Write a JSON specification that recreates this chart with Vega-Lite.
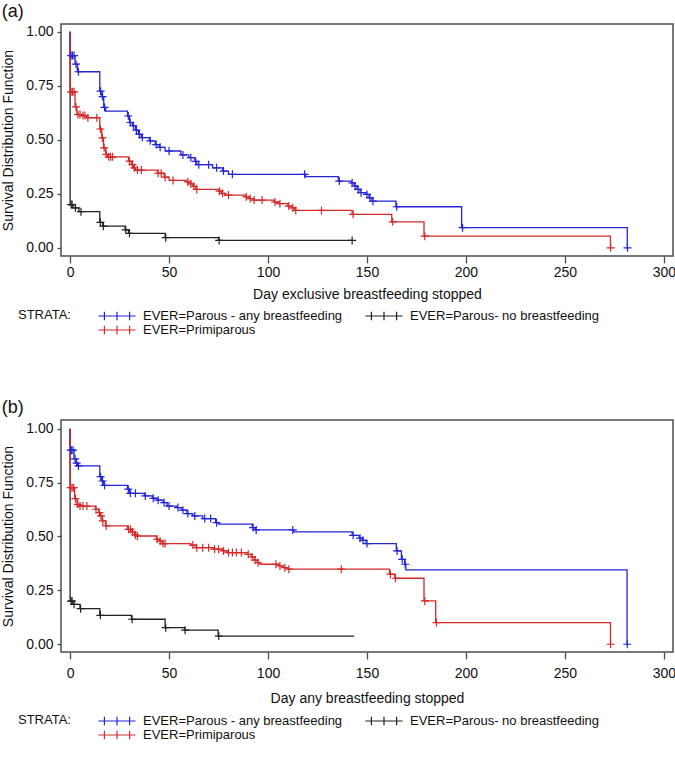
{
  "$schema": "https://vega.github.io/schema/vega-lite/v6.json",
  "padding": {"left": 1, "top": 2, "right": 1, "bottom": 0},
  "background": "white",
  "config": {
    "font": "Liberation Sans",
    "view": {"stroke": "#4d4d4d", "strokeWidth": 1.5},
    "axis": {"grid": false, "domain": false, "tickColor": "#4d4d4d", "tickWidth": 1.3, "labelColor": "#111", "titleColor": "#111", "labelFontSize": 14, "titleFontSize": 14, "titleFontWeight": "normal"},
    "axisX": {"tickSize": 7},
    "axisY": {"tickSize": 4, "labelPadding": 4, "titlePadding": 10},
    "title": {"fontSize": 18, "fontWeight": "normal", "anchor": "start", "frame": "bounds", "offset": 3, "color": "#111"}
  },
  "datasets": {
    "km": [
      {"p":"a","s":"K","d":0,"v":1,"c":0},{"p":"a","s":"K","d":0,"v":0.2,"c":0},{"p":"a","s":"K","d":0.5,"v":0.2,"c":1},{"p":"a","s":"K","d":1,"v":0.2,"c":1},{"p":"a","s":"K","d":1.5,"v":0.185,"c":0},{"p":"a","s":"K","d":2.7,"v":0.185,"c":1},{"p":"a","s":"K","d":4.5,"v":0.167,"c":0},{"p":"a","s":"K","d":5.5,"v":0.167,"c":1},{"p":"a","s":"K","d":15,"v":0.118,"c":0},{"p":"a","s":"K","d":15.3,"v":0.118,"c":1},{"p":"a","s":"K","d":16.5,"v":0.1,"c":0},{"p":"a","s":"K","d":16.8,"v":0.1,"c":1},{"p":"a","s":"K","d":27.8,"v":0.083,"c":0},{"p":"a","s":"K","d":28.1,"v":0.083,"c":1},{"p":"a","s":"K","d":29.5,"v":0.067,"c":0},{"p":"a","s":"K","d":30,"v":0.067,"c":1},{"p":"a","s":"K","d":48,"v":0.047,"c":0},{"p":"a","s":"K","d":48.3,"v":0.047,"c":1},{"p":"a","s":"K","d":75,"v":0.034,"c":0},{"p":"a","s":"K","d":75.3,"v":0.034,"c":1},{"p":"a","s":"K","d":142.5,"v":0.034,"c":1},
      {"p":"a","s":"B","d":0,"v":1,"c":0},{"p":"a","s":"B","d":0,"v":0.89,"c":0},{"p":"a","s":"B","d":0.5,"v":0.89,"c":1},{"p":"a","s":"B","d":1.2,"v":0.89,"c":1},{"p":"a","s":"B","d":2,"v":0.89,"c":1},{"p":"a","s":"B","d":2.5,"v":0.85,"c":0},{"p":"a","s":"B","d":3,"v":0.85,"c":1},{"p":"a","s":"B","d":3.7,"v":0.815,"c":0},{"p":"a","s":"B","d":4.2,"v":0.815,"c":1},{"p":"a","s":"B","d":15,"v":0.725,"c":0},{"p":"a","s":"B","d":15.4,"v":0.725,"c":1},{"p":"a","s":"B","d":16,"v":0.7,"c":0},{"p":"a","s":"B","d":16.4,"v":0.7,"c":1},{"p":"a","s":"B","d":17,"v":0.65,"c":0},{"p":"a","s":"B","d":17.4,"v":0.65,"c":1},{"p":"a","s":"B","d":18,"v":0.633,"c":0},{"p":"a","s":"B","d":29,"v":0.61,"c":0},{"p":"a","s":"B","d":29.4,"v":0.61,"c":1},{"p":"a","s":"B","d":30,"v":0.58,"c":0},{"p":"a","s":"B","d":30.4,"v":0.58,"c":1},{"p":"a","s":"B","d":31.5,"v":0.565,"c":0},{"p":"a","s":"B","d":32,"v":0.565,"c":1},{"p":"a","s":"B","d":33,"v":0.545,"c":0},{"p":"a","s":"B","d":33.5,"v":0.545,"c":1},{"p":"a","s":"B","d":34.5,"v":0.525,"c":0},{"p":"a","s":"B","d":35,"v":0.525,"c":1},{"p":"a","s":"B","d":36,"v":0.51,"c":0},{"p":"a","s":"B","d":36.5,"v":0.51,"c":1},{"p":"a","s":"B","d":40,"v":0.495,"c":0},{"p":"a","s":"B","d":40.5,"v":0.495,"c":1},{"p":"a","s":"B","d":43,"v":0.478,"c":0},{"p":"a","s":"B","d":43.5,"v":0.478,"c":1},{"p":"a","s":"B","d":45,"v":0.465,"c":0},{"p":"a","s":"B","d":45.5,"v":0.465,"c":1},{"p":"a","s":"B","d":48,"v":0.448,"c":0},{"p":"a","s":"B","d":50,"v":0.448,"c":1},{"p":"a","s":"B","d":56,"v":0.43,"c":0},{"p":"a","s":"B","d":57,"v":0.43,"c":1},{"p":"a","s":"B","d":60,"v":0.417,"c":0},{"p":"a","s":"B","d":61,"v":0.417,"c":1},{"p":"a","s":"B","d":63,"v":0.4,"c":0},{"p":"a","s":"B","d":63.5,"v":0.4,"c":1},{"p":"a","s":"B","d":64,"v":0.385,"c":0},{"p":"a","s":"B","d":65,"v":0.385,"c":1},{"p":"a","s":"B","d":70,"v":0.385,"c":1},{"p":"a","s":"B","d":72,"v":0.37,"c":0},{"p":"a","s":"B","d":74,"v":0.37,"c":1},{"p":"a","s":"B","d":77,"v":0.355,"c":0},{"p":"a","s":"B","d":77.5,"v":0.355,"c":1},{"p":"a","s":"B","d":80,"v":0.34,"c":0},{"p":"a","s":"B","d":82,"v":0.34,"c":1},{"p":"a","s":"B","d":118.5,"v":0.34,"c":1},{"p":"a","s":"B","d":119,"v":0.329,"c":0},{"p":"a","s":"B","d":135.5,"v":0.309,"c":0},{"p":"a","s":"B","d":136,"v":0.309,"c":1},{"p":"a","s":"B","d":142,"v":0.3,"c":0},{"p":"a","s":"B","d":142.5,"v":0.3,"c":1},{"p":"a","s":"B","d":143.5,"v":0.286,"c":0},{"p":"a","s":"B","d":144,"v":0.286,"c":1},{"p":"a","s":"B","d":145,"v":0.27,"c":0},{"p":"a","s":"B","d":145.5,"v":0.27,"c":1},{"p":"a","s":"B","d":146.5,"v":0.255,"c":0},{"p":"a","s":"B","d":147,"v":0.255,"c":1},{"p":"a","s":"B","d":149.5,"v":0.247,"c":0},{"p":"a","s":"B","d":150,"v":0.247,"c":1},{"p":"a","s":"B","d":151,"v":0.231,"c":0},{"p":"a","s":"B","d":151.5,"v":0.231,"c":1},{"p":"a","s":"B","d":152.5,"v":0.216,"c":0},{"p":"a","s":"B","d":153,"v":0.216,"c":1},{"p":"a","s":"B","d":164.6,"v":0.19,"c":0},{"p":"a","s":"B","d":165,"v":0.19,"c":1},{"p":"a","s":"B","d":197.8,"v":0.093,"c":0},{"p":"a","s":"B","d":198.3,"v":0.093,"c":1},{"p":"a","s":"B","d":281.5,"v":0,"c":0},{"p":"a","s":"B","d":281.6,"v":0,"c":1},
      {"p":"a","s":"R","d":0,"v":1,"c":0},{"p":"a","s":"R","d":0,"v":0.722,"c":0},{"p":"a","s":"R","d":0.5,"v":0.722,"c":1},{"p":"a","s":"R","d":1.2,"v":0.722,"c":1},{"p":"a","s":"R","d":2,"v":0.722,"c":1},{"p":"a","s":"R","d":2.5,"v":0.652,"c":0},{"p":"a","s":"R","d":3,"v":0.652,"c":1},{"p":"a","s":"R","d":3.4,"v":0.617,"c":0},{"p":"a","s":"R","d":4,"v":0.617,"c":1},{"p":"a","s":"R","d":5,"v":0.617,"c":1},{"p":"a","s":"R","d":6,"v":0.612,"c":0},{"p":"a","s":"R","d":6.5,"v":0.612,"c":1},{"p":"a","s":"R","d":7.5,"v":0.612,"c":1},{"p":"a","s":"R","d":8.4,"v":0.602,"c":0},{"p":"a","s":"R","d":9,"v":0.602,"c":1},{"p":"a","s":"R","d":13.5,"v":0.602,"c":1},{"p":"a","s":"R","d":15,"v":0.55,"c":0},{"p":"a","s":"R","d":15.3,"v":0.55,"c":1},{"p":"a","s":"R","d":16,"v":0.509,"c":0},{"p":"a","s":"R","d":16.3,"v":0.509,"c":1},{"p":"a","s":"R","d":16.9,"v":0.463,"c":0},{"p":"a","s":"R","d":17.2,"v":0.463,"c":1},{"p":"a","s":"R","d":18,"v":0.432,"c":0},{"p":"a","s":"R","d":18.3,"v":0.432,"c":1},{"p":"a","s":"R","d":18.8,"v":0.421,"c":0},{"p":"a","s":"R","d":19.5,"v":0.421,"c":1},{"p":"a","s":"R","d":20.5,"v":0.421,"c":1},{"p":"a","s":"R","d":21.5,"v":0.421,"c":1},{"p":"a","s":"R","d":29.5,"v":0.401,"c":0},{"p":"a","s":"R","d":30,"v":0.401,"c":1},{"p":"a","s":"R","d":31,"v":0.385,"c":0},{"p":"a","s":"R","d":31.5,"v":0.385,"c":1},{"p":"a","s":"R","d":32,"v":0.37,"c":0},{"p":"a","s":"R","d":32.5,"v":0.37,"c":1},{"p":"a","s":"R","d":33,"v":0.36,"c":0},{"p":"a","s":"R","d":34,"v":0.36,"c":1},{"p":"a","s":"R","d":36,"v":0.36,"c":1},{"p":"a","s":"R","d":44,"v":0.345,"c":0},{"p":"a","s":"R","d":44.5,"v":0.345,"c":1},{"p":"a","s":"R","d":46,"v":0.345,"c":1},{"p":"a","s":"R","d":47.5,"v":0.327,"c":0},{"p":"a","s":"R","d":48,"v":0.327,"c":1},{"p":"a","s":"R","d":50,"v":0.312,"c":0},{"p":"a","s":"R","d":52,"v":0.312,"c":1},{"p":"a","s":"R","d":59,"v":0.305,"c":0},{"p":"a","s":"R","d":59.5,"v":0.305,"c":1},{"p":"a","s":"R","d":60.5,"v":0.296,"c":0},{"p":"a","s":"R","d":61,"v":0.296,"c":1},{"p":"a","s":"R","d":62,"v":0.285,"c":0},{"p":"a","s":"R","d":62.5,"v":0.285,"c":1},{"p":"a","s":"R","d":63.5,"v":0.27,"c":0},{"p":"a","s":"R","d":64,"v":0.27,"c":1},{"p":"a","s":"R","d":75,"v":0.262,"c":0},{"p":"a","s":"R","d":75.5,"v":0.262,"c":1},{"p":"a","s":"R","d":76.5,"v":0.252,"c":0},{"p":"a","s":"R","d":77,"v":0.252,"c":1},{"p":"a","s":"R","d":78,"v":0.244,"c":0},{"p":"a","s":"R","d":80,"v":0.244,"c":1},{"p":"a","s":"R","d":88.5,"v":0.236,"c":0},{"p":"a","s":"R","d":89,"v":0.236,"c":1},{"p":"a","s":"R","d":90.5,"v":0.228,"c":0},{"p":"a","s":"R","d":91,"v":0.228,"c":1},{"p":"a","s":"R","d":92.5,"v":0.221,"c":0},{"p":"a","s":"R","d":93,"v":0.221,"c":1},{"p":"a","s":"R","d":97,"v":0.221,"c":1},{"p":"a","s":"R","d":103,"v":0.212,"c":0},{"p":"a","s":"R","d":103.5,"v":0.212,"c":1},{"p":"a","s":"R","d":105.5,"v":0.204,"c":0},{"p":"a","s":"R","d":106,"v":0.204,"c":1},{"p":"a","s":"R","d":110,"v":0.193,"c":0},{"p":"a","s":"R","d":110.5,"v":0.193,"c":1},{"p":"a","s":"R","d":112,"v":0.185,"c":0},{"p":"a","s":"R","d":112.5,"v":0.185,"c":1},{"p":"a","s":"R","d":113.5,"v":0.173,"c":0},{"p":"a","s":"R","d":114,"v":0.173,"c":1},{"p":"a","s":"R","d":127,"v":0.173,"c":1},{"p":"a","s":"R","d":142.5,"v":0.155,"c":0},{"p":"a","s":"R","d":143,"v":0.155,"c":1},{"p":"a","s":"R","d":162.5,"v":0.12,"c":0},{"p":"a","s":"R","d":163,"v":0.12,"c":1},{"p":"a","s":"R","d":178.8,"v":0.054,"c":0},{"p":"a","s":"R","d":179.2,"v":0.054,"c":1},{"p":"a","s":"R","d":273,"v":0,"c":0},{"p":"a","s":"R","d":273.1,"v":0,"c":1},
      {"p":"b","s":"K","d":0,"v":1,"c":0},{"p":"b","s":"K","d":0,"v":0.2,"c":0},{"p":"b","s":"K","d":0.5,"v":0.2,"c":1},{"p":"b","s":"K","d":1,"v":0.2,"c":1},{"p":"b","s":"K","d":1.5,"v":0.185,"c":0},{"p":"b","s":"K","d":2,"v":0.185,"c":1},{"p":"b","s":"K","d":5,"v":0.165,"c":0},{"p":"b","s":"K","d":5.3,"v":0.165,"c":1},{"p":"b","s":"K","d":15,"v":0.134,"c":0},{"p":"b","s":"K","d":15.3,"v":0.134,"c":1},{"p":"b","s":"K","d":31,"v":0.116,"c":0},{"p":"b","s":"K","d":31.3,"v":0.116,"c":1},{"p":"b","s":"K","d":48,"v":0.077,"c":0},{"p":"b","s":"K","d":48.3,"v":0.077,"c":1},{"p":"b","s":"K","d":57.8,"v":0.065,"c":0},{"p":"b","s":"K","d":58.1,"v":0.065,"c":1},{"p":"b","s":"K","d":74.8,"v":0.038,"c":0},{"p":"b","s":"K","d":75.1,"v":0.038,"c":1},{"p":"b","s":"K","d":143.5,"v":0.038,"c":0},
      {"p":"b","s":"B","d":0,"v":1,"c":0},{"p":"b","s":"B","d":0,"v":0.9,"c":0},{"p":"b","s":"B","d":0.3,"v":0.9,"c":1},{"p":"b","s":"B","d":0.8,"v":0.9,"c":1},{"p":"b","s":"B","d":1.5,"v":0.9,"c":1},{"p":"b","s":"B","d":2,"v":0.86,"c":0},{"p":"b","s":"B","d":2.5,"v":0.86,"c":1},{"p":"b","s":"B","d":3,"v":0.84,"c":0},{"p":"b","s":"B","d":3.3,"v":0.84,"c":1},{"p":"b","s":"B","d":3.8,"v":0.827,"c":0},{"p":"b","s":"B","d":4.2,"v":0.827,"c":1},{"p":"b","s":"B","d":15,"v":0.777,"c":0},{"p":"b","s":"B","d":15.4,"v":0.777,"c":1},{"p":"b","s":"B","d":16,"v":0.757,"c":0},{"p":"b","s":"B","d":16.4,"v":0.757,"c":1},{"p":"b","s":"B","d":17,"v":0.737,"c":0},{"p":"b","s":"B","d":17.4,"v":0.737,"c":1},{"p":"b","s":"B","d":29,"v":0.719,"c":0},{"p":"b","s":"B","d":29.4,"v":0.719,"c":1},{"p":"b","s":"B","d":30,"v":0.7,"c":0},{"p":"b","s":"B","d":30.4,"v":0.7,"c":1},{"p":"b","s":"B","d":33,"v":0.7,"c":1},{"p":"b","s":"B","d":37.5,"v":0.688,"c":0},{"p":"b","s":"B","d":38,"v":0.688,"c":1},{"p":"b","s":"B","d":41.5,"v":0.677,"c":0},{"p":"b","s":"B","d":42,"v":0.677,"c":1},{"p":"b","s":"B","d":44,"v":0.668,"c":0},{"p":"b","s":"B","d":44.5,"v":0.668,"c":1},{"p":"b","s":"B","d":47,"v":0.657,"c":0},{"p":"b","s":"B","d":47.5,"v":0.657,"c":1},{"p":"b","s":"B","d":49,"v":0.641,"c":0},{"p":"b","s":"B","d":50,"v":0.641,"c":1},{"p":"b","s":"B","d":54,"v":0.634,"c":0},{"p":"b","s":"B","d":54.5,"v":0.634,"c":1},{"p":"b","s":"B","d":56.5,"v":0.622,"c":0},{"p":"b","s":"B","d":57,"v":0.622,"c":1},{"p":"b","s":"B","d":59,"v":0.606,"c":0},{"p":"b","s":"B","d":59.5,"v":0.606,"c":1},{"p":"b","s":"B","d":62,"v":0.595,"c":0},{"p":"b","s":"B","d":63,"v":0.595,"c":1},{"p":"b","s":"B","d":67,"v":0.583,"c":0},{"p":"b","s":"B","d":68,"v":0.583,"c":1},{"p":"b","s":"B","d":71,"v":0.583,"c":1},{"p":"b","s":"B","d":73.5,"v":0.564,"c":0},{"p":"b","s":"B","d":74,"v":0.564,"c":1},{"p":"b","s":"B","d":75,"v":0.557,"c":0},{"p":"b","s":"B","d":92,"v":0.541,"c":0},{"p":"b","s":"B","d":92.5,"v":0.541,"c":1},{"p":"b","s":"B","d":93.5,"v":0.53,"c":0},{"p":"b","s":"B","d":94,"v":0.53,"c":1},{"p":"b","s":"B","d":112.5,"v":0.53,"c":1},{"p":"b","s":"B","d":113,"v":0.521,"c":0},{"p":"b","s":"B","d":142.5,"v":0.505,"c":0},{"p":"b","s":"B","d":143,"v":0.505,"c":1},{"p":"b","s":"B","d":146,"v":0.492,"c":0},{"p":"b","s":"B","d":146.5,"v":0.492,"c":1},{"p":"b","s":"B","d":147.5,"v":0.482,"c":0},{"p":"b","s":"B","d":148,"v":0.482,"c":1},{"p":"b","s":"B","d":149.5,"v":0.467,"c":0},{"p":"b","s":"B","d":150,"v":0.467,"c":1},{"p":"b","s":"B","d":164.8,"v":0.433,"c":0},{"p":"b","s":"B","d":165.2,"v":0.433,"c":1},{"p":"b","s":"B","d":167.4,"v":0.394,"c":0},{"p":"b","s":"B","d":167.8,"v":0.394,"c":1},{"p":"b","s":"B","d":169,"v":0.371,"c":0},{"p":"b","s":"B","d":169.3,"v":0.371,"c":1},{"p":"b","s":"B","d":169.6,"v":0.345,"c":0},{"p":"b","s":"B","d":281.4,"v":0,"c":0},{"p":"b","s":"B","d":281.5,"v":0,"c":1},
      {"p":"b","s":"R","d":0,"v":1,"c":0},{"p":"b","s":"R","d":0,"v":0.726,"c":0},{"p":"b","s":"R","d":0.3,"v":0.726,"c":1},{"p":"b","s":"R","d":1,"v":0.726,"c":1},{"p":"b","s":"R","d":1.8,"v":0.726,"c":1},{"p":"b","s":"R","d":2.3,"v":0.675,"c":0},{"p":"b","s":"R","d":2.7,"v":0.675,"c":1},{"p":"b","s":"R","d":3.5,"v":0.649,"c":0},{"p":"b","s":"R","d":3.9,"v":0.649,"c":1},{"p":"b","s":"R","d":4.5,"v":0.641,"c":0},{"p":"b","s":"R","d":5,"v":0.641,"c":1},{"p":"b","s":"R","d":6.5,"v":0.641,"c":1},{"p":"b","s":"R","d":8.5,"v":0.641,"c":1},{"p":"b","s":"R","d":12.8,"v":0.626,"c":0},{"p":"b","s":"R","d":13.1,"v":0.626,"c":1},{"p":"b","s":"R","d":14.5,"v":0.61,"c":0},{"p":"b","s":"R","d":14.8,"v":0.61,"c":1},{"p":"b","s":"R","d":15.3,"v":0.595,"c":0},{"p":"b","s":"R","d":15.6,"v":0.595,"c":1},{"p":"b","s":"R","d":16.2,"v":0.572,"c":0},{"p":"b","s":"R","d":16.5,"v":0.572,"c":1},{"p":"b","s":"R","d":17.9,"v":0.549,"c":0},{"p":"b","s":"R","d":18.2,"v":0.549,"c":1},{"p":"b","s":"R","d":29,"v":0.533,"c":0},{"p":"b","s":"R","d":29.5,"v":0.533,"c":1},{"p":"b","s":"R","d":30.5,"v":0.533,"c":1},{"p":"b","s":"R","d":31,"v":0.521,"c":0},{"p":"b","s":"R","d":31.5,"v":0.521,"c":1},{"p":"b","s":"R","d":32.5,"v":0.507,"c":0},{"p":"b","s":"R","d":33,"v":0.507,"c":1},{"p":"b","s":"R","d":33.5,"v":0.502,"c":0},{"p":"b","s":"R","d":34,"v":0.502,"c":1},{"p":"b","s":"R","d":43.5,"v":0.487,"c":0},{"p":"b","s":"R","d":44,"v":0.487,"c":1},{"p":"b","s":"R","d":45,"v":0.478,"c":0},{"p":"b","s":"R","d":45.5,"v":0.478,"c":1},{"p":"b","s":"R","d":46.5,"v":0.467,"c":0},{"p":"b","s":"R","d":47,"v":0.467,"c":1},{"p":"b","s":"R","d":48,"v":0.467,"c":1},{"p":"b","s":"R","d":61,"v":0.46,"c":0},{"p":"b","s":"R","d":62,"v":0.46,"c":1},{"p":"b","s":"R","d":63.5,"v":0.448,"c":0},{"p":"b","s":"R","d":64,"v":0.448,"c":1},{"p":"b","s":"R","d":67,"v":0.448,"c":1},{"p":"b","s":"R","d":70,"v":0.448,"c":1},{"p":"b","s":"R","d":72.5,"v":0.441,"c":0},{"p":"b","s":"R","d":73,"v":0.441,"c":1},{"p":"b","s":"R","d":75,"v":0.441,"c":1},{"p":"b","s":"R","d":77,"v":0.433,"c":0},{"p":"b","s":"R","d":77.5,"v":0.433,"c":1},{"p":"b","s":"R","d":79.5,"v":0.425,"c":0},{"p":"b","s":"R","d":80,"v":0.425,"c":1},{"p":"b","s":"R","d":82,"v":0.425,"c":1},{"p":"b","s":"R","d":84,"v":0.425,"c":1},{"p":"b","s":"R","d":86.5,"v":0.425,"c":1},{"p":"b","s":"R","d":89.5,"v":0.417,"c":0},{"p":"b","s":"R","d":90,"v":0.417,"c":1},{"p":"b","s":"R","d":91.5,"v":0.405,"c":0},{"p":"b","s":"R","d":92,"v":0.405,"c":1},{"p":"b","s":"R","d":93,"v":0.39,"c":0},{"p":"b","s":"R","d":93.5,"v":0.39,"c":1},{"p":"b","s":"R","d":94.5,"v":0.378,"c":0},{"p":"b","s":"R","d":95,"v":0.378,"c":1},{"p":"b","s":"R","d":96,"v":0.371,"c":0},{"p":"b","s":"R","d":104,"v":0.371,"c":1},{"p":"b","s":"R","d":105.5,"v":0.363,"c":0},{"p":"b","s":"R","d":106,"v":0.363,"c":1},{"p":"b","s":"R","d":108,"v":0.355,"c":0},{"p":"b","s":"R","d":108.5,"v":0.355,"c":1},{"p":"b","s":"R","d":110,"v":0.348,"c":0},{"p":"b","s":"R","d":110.5,"v":0.348,"c":1},{"p":"b","s":"R","d":137,"v":0.348,"c":1},{"p":"b","s":"R","d":161.4,"v":0.325,"c":0},{"p":"b","s":"R","d":161.8,"v":0.325,"c":1},{"p":"b","s":"R","d":164,"v":0.306,"c":0},{"p":"b","s":"R","d":164.4,"v":0.306,"c":1},{"p":"b","s":"R","d":178.8,"v":0.201,"c":0},{"p":"b","s":"R","d":179.2,"v":0.201,"c":1},{"p":"b","s":"R","d":184.7,"v":0.1,"c":0},{"p":"b","s":"R","d":185.1,"v":0.1,"c":1},{"p":"b","s":"R","d":273,"v":0,"c":0},{"p":"b","s":"R","d":273.1,"v":0,"c":1}
    ]
  },
  "resolve": {"legend": {"color": "independent"}},
  "spacing": 60,
  "vconcat": [
    {
      "title": "(a)",
      "width": 612,
      "height": 232,
      "data": {"name": "km"},
      "transform": [{"filter": "datum.p == 'a'"}],
      "layer": [
        {
          "mark": {"type": "line", "interpolate": "step-after", "strokeWidth": 1.3},
          "encoding": {
            "x": {"field": "d", "type": "quantitative", "scale": {"domain": [-4.6, 304.6], "nice": false, "zero": false}, "axis": {"values": [0, 50, 100, 150, 200, 250, 300], "labelPadding": 2, "titlePadding": 8, "title": "Day exclusive breastfeeding stopped"}},
            "y": {"field": "v", "type": "quantitative", "scale": {"domain": [-0.038, 1.036], "nice": false, "zero": false}, "axis": {"values": [0, 0.25, 0.5, 0.75, 1], "format": ".2f", "title": "Survival Distribution Function"}},
            "color": {"field": "s", "type": "nominal", "scale": {"domain": ["B", "K", "R"], "range": ["#2525d6", "#222222", "#d42a2a"]},
              "legend": {"orient": "none", "legendX": -43, "legendY": 285, "direction": "horizontal", "columns": 2, "title": "STRATA:", "titleOrient": "left", "titleAnchor": "start", "titleFontSize": 13, "titleFontWeight": "normal", "titleColor": "#111", "titlePadding": 38, "labelFontSize": 13, "labelColor": "#111", "labelLimit": 0, "symbolType": "M-3.1,0H3.1M-2.1,-0.7V0.7M0,-0.7V0.7M2.1,-0.7V0.7", "symbolSize": 144, "symbolStrokeWidth": 1.2, "symbolOffset": 1, "labelOffset": 19, "columnPadding": 20, "rowPadding": 0,
                "labelExpr": "datum.label == 'B' ? 'EVER=Parous - any breastfeeding' : datum.label == 'K' ? 'EVER=Parous- no breastfeeding' : 'EVER=Primiparous'"}},
            "order": [{"field": "d", "type": "quantitative"}, {"field": "v", "type": "quantitative", "sort": "descending"}]
          }
        },
        {
          "transform": [{"filter": "datum.c == 1"}],
          "mark": {"type": "point", "shape": "M-1,0H1M0,-1V1", "filled": false, "size": 64, "strokeWidth": 1.2, "opacity": 1},
          "encoding": {
            "x": {"field": "d", "type": "quantitative"},
            "y": {"field": "v", "type": "quantitative"},
            "color": {"field": "s", "type": "nominal", "legend": null}
          }
        }
      ]
    },
    {
      "title": "(b)",
      "width": 612,
      "height": 232,
      "data": {"name": "km"},
      "transform": [{"filter": "datum.p == 'b'"}],
      "layer": [
        {
          "mark": {"type": "line", "interpolate": "step-after", "strokeWidth": 1.3},
          "encoding": {
            "x": {"field": "d", "type": "quantitative", "scale": {"domain": [-4.6, 304.6], "nice": false, "zero": false}, "axis": {"values": [0, 50, 100, 150, 200, 250, 300], "labelPadding": 7, "titlePadding": 11, "title": "Day any breastfeeding stopped"}},
            "y": {"field": "v", "type": "quantitative", "scale": {"domain": [-0.036, 1.04], "nice": false, "zero": false}, "axis": {"values": [0, 0.25, 0.5, 0.75, 1], "format": ".2f", "title": "Survival Distribution Function"}},
            "color": {"field": "s", "type": "nominal", "scale": {"domain": ["B", "K", "R"], "range": ["#2525d6", "#222222", "#d42a2a"]},
              "legend": {"orient": "none", "legendX": -43, "legendY": 294, "direction": "horizontal", "columns": 2, "title": "STRATA:", "titleOrient": "left", "titleAnchor": "start", "titleFontSize": 13, "titleFontWeight": "normal", "titleColor": "#111", "titlePadding": 38, "labelFontSize": 13, "labelColor": "#111", "labelLimit": 0, "symbolType": "M-3.1,0H3.1M-2.1,-0.7V0.7M0,-0.7V0.7M2.1,-0.7V0.7", "symbolSize": 144, "symbolStrokeWidth": 1.2, "symbolOffset": 1, "labelOffset": 19, "columnPadding": 20, "rowPadding": 0,
                "labelExpr": "datum.label == 'B' ? 'EVER=Parous - any breastfeeding' : datum.label == 'K' ? 'EVER=Parous- no breastfeeding' : 'EVER=Primiparous'"}},
            "order": [{"field": "d", "type": "quantitative"}, {"field": "v", "type": "quantitative", "sort": "descending"}]
          }
        },
        {
          "transform": [{"filter": "datum.c == 1"}],
          "mark": {"type": "point", "shape": "M-1,0H1M0,-1V1", "filled": false, "size": 64, "strokeWidth": 1.2, "opacity": 1},
          "encoding": {
            "x": {"field": "d", "type": "quantitative"},
            "y": {"field": "v", "type": "quantitative"},
            "color": {"field": "s", "type": "nominal", "legend": null}
          }
        }
      ]
    }
  ]
}
